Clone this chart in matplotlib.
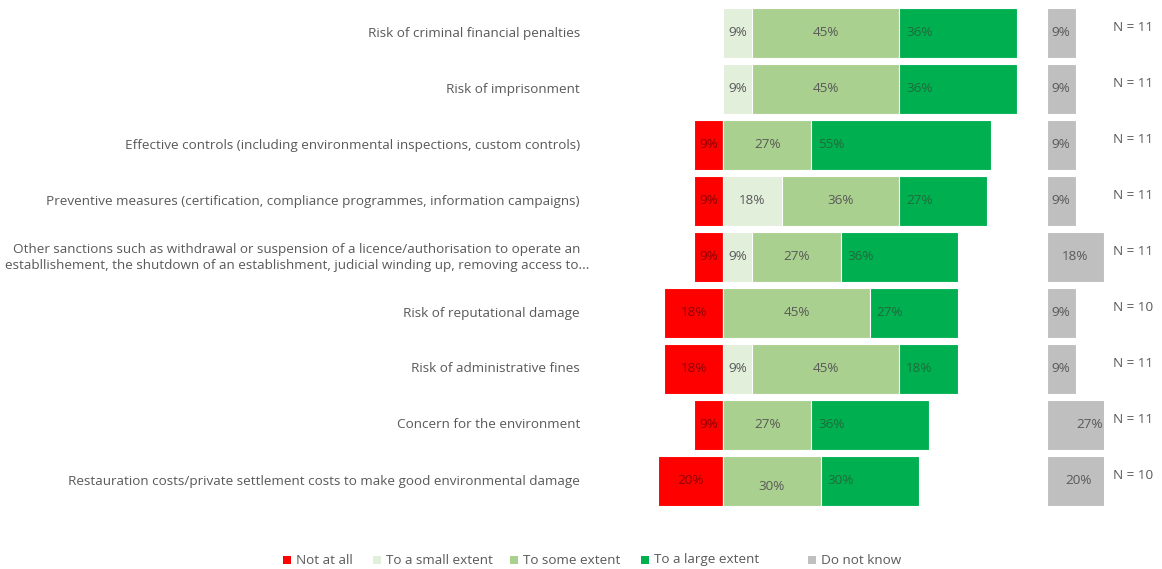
import matplotlib.pyplot as plt
import matplotlib.transforms as mtransforms

# ─── Datos ────────────────────────────────────────────────────────────────
categories = [
    "Risk of criminal financial penalties",
    "Risk of imprisonment",
    "Effective controls (including environmental inspections, custom controls)",
    "Preventive measures (certification, compliance programmes, information campaigns)",
    "Other sanctions such as withdrawal or suspension of a licence/authorisation to operate an\n"
    "establlishement, the shutdown of an establishment, judicial winding up, removing access to...",
    "Risk of reputational damage",
    "Risk of administrative fines",
    "Concern for the environment",
    "Restauration costs/private settlement costs to make good environmental damage",
]
not_at_all   = [0, 0, 9, 9, 9, 18, 18, 9, 20]
small_extent = [9, 9, 0, 18, 9, 0, 9, 0, 0]
some_extent  = [45, 45, 27, 36, 27, 45, 45, 27, 30]
large_extent = [36, 36, 55, 27, 36, 27, 18, 36, 30]
dont_know    = [9, 9, 9, 9, 18, 9, 9, 27, 20]
n_resp       = [11, 11, 11, 11, 11, 10, 11, 11, 10]

legend_labels = ["Not at all", "To a small extent", "To some extent",
                 "To a large extent", "Do not know"]

C_RED, C_SMALL, C_SOME, C_LARGE, C_DK = "#FF0000", "#E2EFDA", "#A9D08E", "#00B050", "#BFBFBF"
T_RED, T_GREY, T_GREEN = "#8B0000", "#595959", "#1F6B3A"

W, H = 1162, 569
fig = plt.figure(figsize=(W / 100, H / 100), dpi=100)
fig.patch.set_facecolor("white")
plt.rcParams["font.family"] = ["Open Sans", "DejaVu Sans"]
FS = 9.7

def px_axes(x0, x1, y0, y1):
    return fig.add_axes([x0 / W, 1 - y1 / H, (x1 - x0) / W, (y1 - y0) / H])

# ejes principales (barras divergentes)
ax = px_axes(640, 1030, 5, 509)
scale = 3.265
ax.set_xlim((640 - 723) / scale, (1030 - 723) / scale)
ax.set_ylim(8.5, -0.5)
ax.axis("off")

rows = range(len(categories))
h = 0.9
ax.barh(rows, [-v for v in not_at_all], height=h, color=C_RED, edgecolor="white", linewidth=0.8)
left = [0] * 9
for vals, col in [(small_extent, C_SMALL), (some_extent, C_SOME), (large_extent, C_LARGE)]:
    ax.barh(rows, vals, left=left, height=h, color=col, edgecolor="white", linewidth=0.8)
    left = [l + v for l, v in zip(left, vals)]

for i in rows:
    if not_at_all[i]:
        ax.text(-not_at_all[i] / 2, i, f"{not_at_all[i]}%", ha="center", va="center",
                fontsize=FS, color=T_RED)
    x = 0
    if small_extent[i]:
        ax.text(x + small_extent[i] / 2, i, f"{small_extent[i]}%", ha="center", va="center",
                fontsize=FS, color=T_GREY)
    x += small_extent[i]
    dy = 0.1 if i == 8 else 0
    ax.text(x + some_extent[i] / 2, i + dy, f"{some_extent[i]}%", ha="center", va="center",
            fontsize=FS, color=T_GREY)
    x += some_extent[i]
    ax.text(x + 2.1, i, f"{large_extent[i]}%", ha="left", va="center",
            fontsize=FS, color=T_GREEN)

# ejes "Do not know" (recortado a 18%)
ax2 = px_axes(1047, 1104, 5, 509)
ax2.set_xlim(0, 18)
ax2.set_ylim(8.5, -0.5)
ax2.axis("off")
ax2.barh(rows, dont_know, height=h, color=C_DK, edgecolor="white", linewidth=0.8)
for i in rows:
    ax2.text(dont_know[i] / 2, i, f"{dont_know[i]}%", ha="center", va="center",
             fontsize=FS, color=T_GREY, clip_on=False)

# N = ...
tr_n = mtransforms.blended_transform_factory(fig.transFigure, ax.transData)
for i in rows:
    ax.text(1113 / W, i - 0.1, f"N = {n_resp[i]}", transform=tr_n, ha="left", va="center",
            fontsize=FS, color=T_GREY)

# etiquetas de categoria
for i, cat in enumerate(categories):
    if "\n" in cat:
        ax.text(297 / W, i, cat, transform=tr_n, ha="center", va="center",
                fontsize=FS, color=T_GREY, multialignment="center", linespacing=1.3)
    else:
        ax.text(580 / W, i, cat, transform=tr_n, ha="right", va="center",
                fontsize=FS, color=T_GREY)

# leyenda (posiciones a mano, como en el original)
leg_x = [287, 377, 514, 645, 812]
leg_y = 560
for xp, lab, col in zip(leg_x, legend_labels, [C_RED, C_SMALL, C_SOME, C_LARGE, C_DK]):
    fig.patches.append(plt.Rectangle(((xp - 4) / W, 1 - (leg_y + 4) / H), 8 / W, 8 / H,
                                     transform=fig.transFigure, facecolor=col, edgecolor="none"))
    fig.text((xp + 9) / W, 1 - leg_y / H, lab, ha="left", va="center", fontsize=FS, color=T_GREY)

fig.savefig("out.png", dpi=100, facecolor="white")
